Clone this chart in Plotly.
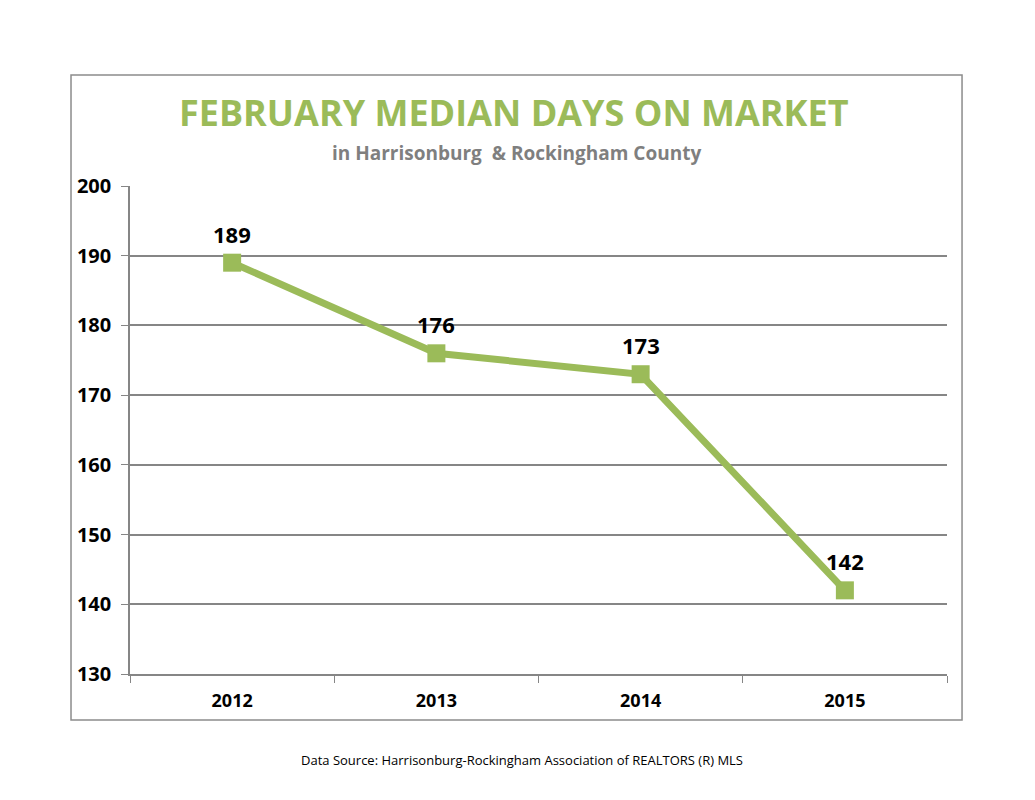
import plotly.graph_objects as go

# Data
years = ["2012", "2013", "2014", "2015"]
median_days = [189, 176, 173, 142]

green = "#9BBB59"
grid = "#868686"

fig = go.Figure()
fig.add_trace(go.Scatter(
    x=years, y=median_days, mode="lines+markers",
    line=dict(color=green, width=7),
    marker=dict(symbol="square", size=18, color=green),
    hoverinfo="skip", showlegend=False,
))

# value labels above each point (category index used for x)
for i, v in enumerate(median_days):
    fig.add_annotation(x=i, y=v, text="<b>%d</b>" % v, showarrow=False, yshift=29,
                       font=dict(family="Open Sans", size=22, color="black"))

fig.update_xaxes(type="category", range=[-0.5, 3.5], showgrid=False,
                 showline=True, linecolor=grid, linewidth=1.5,
                 ticks="outside", tickson="boundaries", ticklen=7, tickcolor=grid,
                 tickfont=dict(family="Open Sans", size=18, color="black"),
                 ticklabelstandoff=10, zeroline=False,
                 tickprefix="<b>", ticksuffix="</b>")
fig.update_yaxes(range=[130, 200], dtick=10, showgrid=True, gridcolor=grid, gridwidth=1.5,
                 showline=True, linecolor=grid, linewidth=1.5,
                 ticks="outside", ticklen=7, tickcolor=grid,
                 tickfont=dict(family="Open Sans", size=20, color="black"),
                 ticklabelstandoff=6, zeroline=False,
                 tickprefix="<b>", ticksuffix="</b>")

# outer chart border
fig.add_shape(type="rect", xref="paper", yref="paper", x0=-0.0722, x1=1.0184, y0=-0.0943, y1=1.2275,
              line=dict(color="#8C8C8C", width=1.5))

fig.add_annotation(xref="paper", yref="paper", x=0.47, y=1.15, yanchor="middle", showarrow=False,
                   text="<b>FEBRUARY MEDIAN DAYS ON MARKET</b>",
                   font=dict(family="Open Sans", size=36, color=green))
fig.add_annotation(xref="paper", yref="paper", x=0.473, y=1.068, yanchor="middle", showarrow=False,
                   text="<b>in Harrisonburg  &amp; Rockingham County</b>",
                   font=dict(family="Open Sans", size=19, color="#7F7F7F"))
fig.add_annotation(xref="paper", yref="paper", x=0.48, y=-0.176, yanchor="middle", showarrow=False,
                   text="Data Source: Harrisonburg-Rockingham Association of REALTORS (R) MLS",
                   font=dict(family="Open Sans", size=13, color="black"))

# page body has an 8px margin, so the figure is trimmed by that much
fig.update_layout(width=1027, height=792, paper_bgcolor="white", plot_bgcolor="white",
                  margin=dict(l=122, r=88, t=178, b=126))

fig.write_html("out.html")
